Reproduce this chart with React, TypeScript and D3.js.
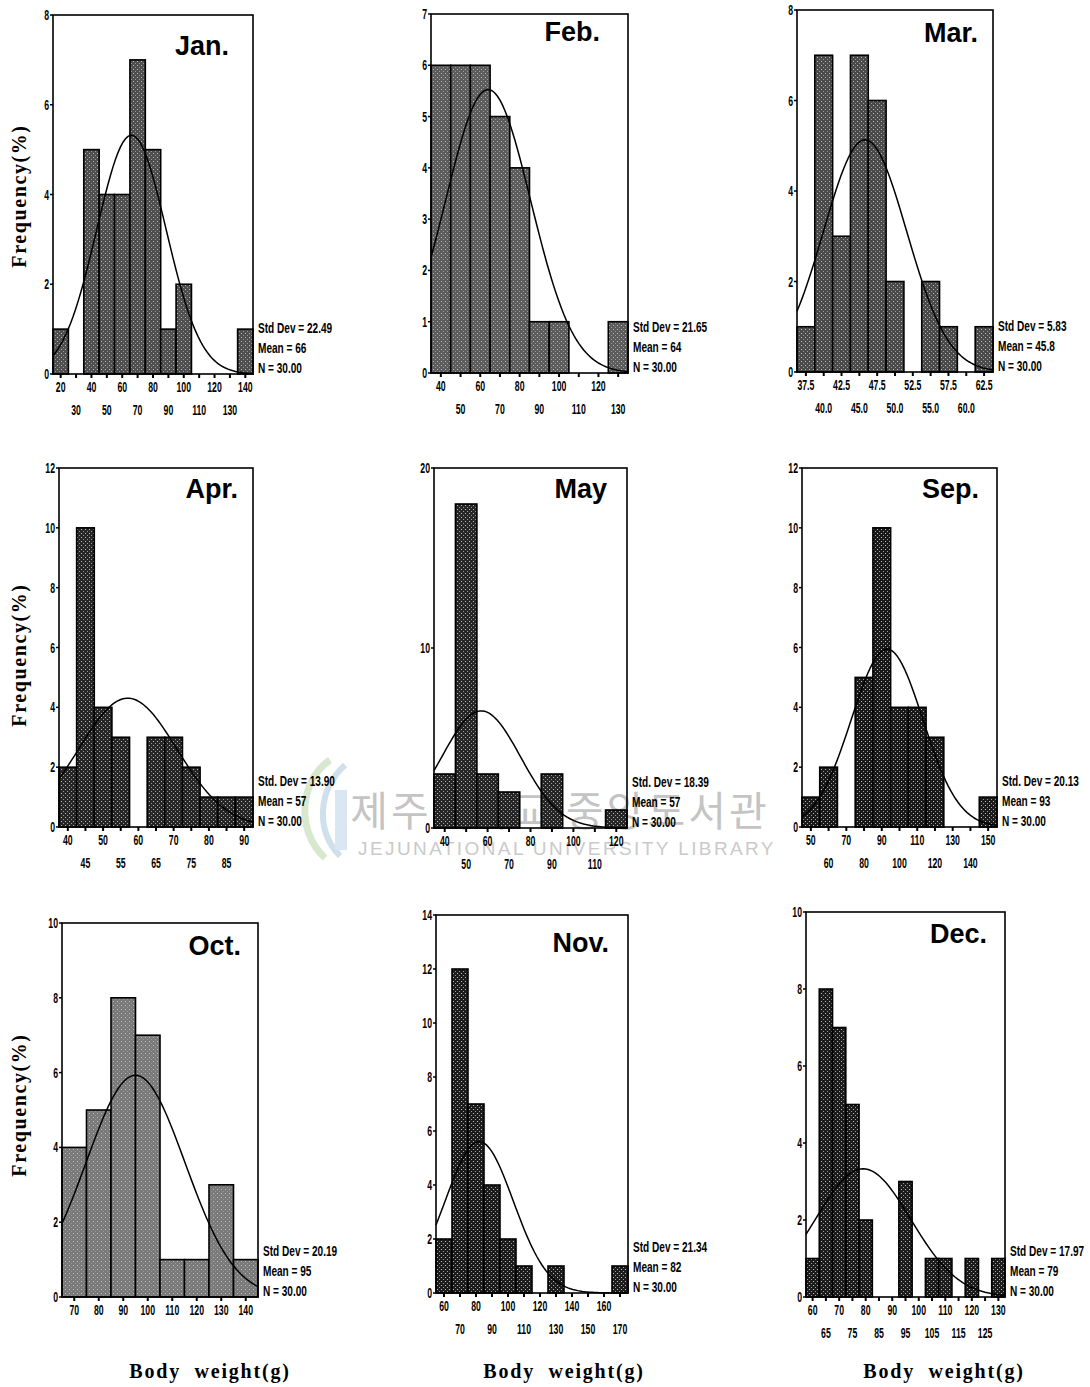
import React from "react";
import * as d3 from "d3";

// ---------------- DATA ----------------
const monthNames = ["Jan.", "Feb.", "Mar.", "Apr.", "May", "Sep.", "Oct.", "Nov.", "Dec."];

const janBins = [20, 30, 40, 50, 60, 70, 80, 90, 100, 110, 120, 130, 140];
const janCounts = [1, 0, 5, 4, 4, 7, 5, 1, 2, 0, 0, 0, 1];

const febBins = [40, 50, 60, 70, 80, 90, 100, 110, 120, 130];
const febCounts = [6, 6, 6, 5, 4, 1, 1, 0, 0, 1];

const marBins = [37.5, 40.0, 42.5, 45.0, 47.5, 50.0, 52.5, 55.0, 57.5, 60.0, 62.5];
const marCounts = [1, 7, 3, 7, 6, 2, 0, 2, 1, 0, 1];

const aprBins = [40, 45, 50, 55, 60, 65, 70, 75, 80, 85, 90];
const aprCounts = [2, 10, 4, 3, 0, 3, 3, 2, 1, 1, 1];

const mayBins = [40, 50, 60, 70, 80, 90, 100, 110, 120];
const mayCounts = [3, 18, 3, 2, 0, 3, 0, 0, 1];

const sepBins = [50, 60, 70, 80, 90, 100, 110, 120, 130, 140, 150];
const sepCounts = [1, 2, 0, 5, 10, 4, 4, 3, 0, 0, 1];

const octBins = [70, 80, 90, 100, 110, 120, 130, 140];
const octCounts = [4, 5, 8, 7, 1, 1, 3, 1];

const novBins = [60, 70, 80, 90, 100, 110, 120, 130, 140, 150, 160, 170];
const novCounts = [2, 12, 7, 4, 2, 1, 0, 1, 0, 0, 0, 1];

const decBins = [60, 65, 70, 75, 80, 85, 90, 95, 100, 105, 110, 115, 120, 125, 130];
const decCounts = [1, 8, 7, 5, 2, 0, 0, 3, 0, 1, 1, 0, 1, 0, 1];

const allBins = [janBins, febBins, marBins, aprBins, mayBins, sepBins, octBins, novBins, decBins];
const allCounts = [janCounts, febCounts, marCounts, aprCounts, mayCounts, sepCounts, octCounts, novCounts, decCounts];
const binWidths = [10, 10, 2.5, 5, 10, 10, 10, 10, 5];

const stdDevs = [22.49, 21.65, 5.83, 13.9, 18.39, 20.13, 20.19, 21.34, 17.97];
const means = [66, 64, 45.8, 57, 57, 93, 95, 82, 79];
const sampleSizes = [30, 30, 30, 30, 30, 30, 30, 30, 30];
const stdDevPrefixes = ["Std Dev", "Std Dev", "Std Dev", "Std. Dev", "Std. Dev", "Std. Dev", "Std Dev", "Std Dev", "Std Dev"];

const yMaxes = [8, 7, 8, 12, 20, 12, 10, 14, 10];
const yTickValues = [
  [0, 2, 4, 6, 8],
  [0, 1, 2, 3, 4, 5, 6, 7],
  [0, 2, 4, 6, 8],
  [0, 2, 4, 6, 8, 10, 12],
  [0, 10, 20],
  [0, 2, 4, 6, 8, 10, 12],
  [0, 2, 4, 6, 8, 10],
  [0, 2, 4, 6, 8, 10, 12, 14],
  [0, 2, 4, 6, 8, 10],
];
const twoRowLabels = [true, true, true, true, true, true, false, true, true];

const yAxisTitle = "Frequency(%)";
const xAxisTitle = "Body  weight(g)";
const watermarkKo = "제주대학교 중앙도서관";
const watermarkEn = "JEJUNATIONAL UNIVERSITY LIBRARY";

// ---------------- LAYOUT / STYLE ----------------
const boxes = [
  { L: 53, R: 253, T: 15, B: 374 },
  { L: 431, R: 628, T: 14, B: 373 },
  { L: 797, R: 993, T: 10, B: 372 },
  { L: 59, R: 253, T: 468, B: 827 },
  { L: 434, R: 627, T: 468, B: 828 },
  { L: 802, R: 997, T: 468, B: 827 },
  { L: 62, R: 258, T: 923, B: 1297 },
  { L: 436, R: 628, T: 915, B: 1293 },
  { L: 806, R: 1005, T: 912, B: 1297 },
];
const titleOffsets = [
  { dx: 24, dy: 40 },
  { dx: 28, dy: 27 },
  { dx: 15, dy: 32 },
  { dx: 15, dy: 30 },
  { dx: 20, dy: 30 },
  { dx: 18, dy: 30 },
  { dx: 17, dy: 32 },
  { dx: 19, dy: 37 },
  { dx: 18, dy: 31 },
];
const barBase = ["#4e4e4e", "#5c5c5c", "#4a4a4a", "#262626", "#262626", "#1a1a1a", "#7a7a7a", "#1c1c1c", "#1c1c1c"];

const serif = "'Liberation Serif', 'DejaVu Serif', 'Times New Roman', serif";
const sans = "'Liberation Sans', Arial, Helvetica, sans-serif";

function NText({
  x,
  y,
  anchor = "start",
  size = 15,
  sx = 0.58,
  children,
}: {
  x: number;
  y: number;
  anchor?: "start" | "middle" | "end";
  size?: number;
  sx?: number;
  children: React.ReactNode;
}) {
  return (
    <text
      transform={`translate(${x},${y}) scale(${sx},1)`}
      textAnchor={anchor}
      fontFamily={sans}
      fontWeight="bold"
      fontSize={size}
      fill="#000"
    >
      {children}
    </text>
  );
}

function fmtTick(v: number, bw: number) {
  return bw < 5 ? v.toFixed(1) : String(v);
}

function Panel({ i }: { i: number }) {
  const { L, R, T, B } = boxes[i];
  const bins = allBins[i];
  const counts = allCounts[i];
  const w = binWidths[i];
  const x = d3.scaleLinear().domain([bins[0] - w / 2, bins[bins.length - 1] + w / 2]).range([L, R]);
  const y = d3.scaleLinear().domain([0, yMaxes[i]]).range([B, T]);

  // fitted normal curve from the printed Mean / Std Dev / N
  const sd = stdDevs[i];
  const mu = means[i];
  const n = sampleSizes[i];
  const [d0, d1] = x.domain();
  const steps = 80;
  const curvePts: [number, number][] = d3.range(steps + 1).map((k) => {
    const xv = d0 + ((d1 - d0) * k) / steps;
    const dens = ((n * w) / (sd * Math.sqrt(2 * Math.PI))) * Math.exp(-0.5 * ((xv - mu) / sd) ** 2);
    return [x(xv), y(dens)];
  });
  const line = d3.line();

  const statLines = [
    `${stdDevPrefixes[i]} = ${sd.toFixed(2)}`,
    `Mean = ${mu}`,
    `N = ${n.toFixed(2)}`,
  ];

  return (
    <g>
      {bins.map((b, k) =>
        counts[k] > 0 ? (
          <rect
            key={k}
            x={x(b - w / 2)}
            y={y(counts[k])}
            width={x(b + w / 2) - x(b - w / 2)}
            height={B - y(counts[k])}
            fill={`url(#st${i})`}
            stroke="#000"
            strokeWidth={1.6}
          />
        ) : null
      )}
      <path d={line(curvePts) || ""} fill="none" stroke="#000" strokeWidth={1.5} />
      <rect x={L} y={T} width={R - L} height={B - T} fill="none" stroke="#000" strokeWidth={1.6} />
      {yTickValues[i].map((t) => (
        <g key={t}>
          <line x1={L - 3} x2={L} y1={y(t)} y2={y(t)} stroke="#000" strokeWidth={1.5} />
          <NText x={L - 4} y={y(t) + 5} anchor="end">
            {t}
          </NText>
        </g>
      ))}
      {bins.map((b, k) => {
        const row2 = twoRowLabels[i] && k % 2 === 1;
        return (
          <g key={b}>
            <line x1={x(b)} x2={x(b)} y1={B} y2={B + 4} stroke="#000" strokeWidth={2} />
            <NText x={x(b)} y={B + (row2 ? 41 : 18)} anchor="middle">
              {fmtTick(b, w)}
            </NText>
          </g>
        );
      })}
      <text
        x={R - titleOffsets[i].dx}
        y={T + titleOffsets[i].dy}
        textAnchor="end"
        fontFamily={sans}
        fontWeight="bold"
        fontSize={27}
      >
        {monthNames[i]}
      </text>
      {statLines.map((s, k) => (
        <NText key={k} x={R + 5} y={B - 41 + k * 20} size={14} sx={0.72}>
          {s}
        </NText>
      ))}
    </g>
  );
}

export default function App() {
  const rowCenters = [196, 655, 1105];
  const colCenters = [210, 564, 944];
  return (
    <svg
      width={1090}
      height={1387}
      style={{ position: "absolute", left: 0, top: 0, background: "#fff" }}
    >
      <defs>
        {barBase.map((c, i) => (
          <pattern key={i} id={`st${i}`} width={4} height={4} patternUnits="userSpaceOnUse">
            <rect width={4} height={4} fill={c} />
            <rect x={1} y={1} width={1} height={1} fill="#bdbdbd" />
            <rect x={3} y={3} width={1} height={1} fill="#9a9a9a" />
          </pattern>
        ))}
      </defs>
      <rect width={1090} height={1387} fill="#fff" />

      {/* library watermark */}
      <g opacity={0.55}>
        <path d="M 330 760 C 300 780, 295 830, 325 858" fill="none" stroke="#b9d7a8" strokeWidth={7} />
        <path d="M 345 765 C 318 790, 315 830, 340 856" fill="none" stroke="#a9c6dc" strokeWidth={6} />
        <rect x={335} y={790} width={12} height={60} fill="#bcd2e6" />
      </g>
      <text
        x={560}
        y={826}
        textAnchor="middle"
        fontFamily="'Noto Sans CJK KR', sans-serif"
        fontSize={41}
        fill="#c4c4c4"
        letterSpacing={3}
      >
        {watermarkKo}
      </text>
      <text
        x={567}
        y={855}
        textAnchor="middle"
        fontFamily={sans}
        fontSize={19}
        fill="#cacaca"
        letterSpacing={2.4}
      >
        {watermarkEn}
      </text>

      {monthNames.map((_, i) => (
        <Panel key={i} i={i} />
      ))}

      {rowCenters.map((cy, r) => (
        <text
          key={r}
          transform={`translate(26,${cy}) rotate(-90)`}
          textAnchor="middle"
          fontFamily={serif}
          fontWeight="bold"
          fontSize={20}
          letterSpacing={1.6}
        >
          {yAxisTitle}
        </text>
      ))}
      {colCenters.map((cx, c) => (
        <text
          key={c}
          x={cx}
          y={1378}
          textAnchor="middle"
          fontFamily={serif}
          fontWeight="bold"
          fontSize={20}
          letterSpacing={1.8}
          style={{ whiteSpace: "pre" }}
        >
          {xAxisTitle}
        </text>
      ))}
    </svg>
  );
}
